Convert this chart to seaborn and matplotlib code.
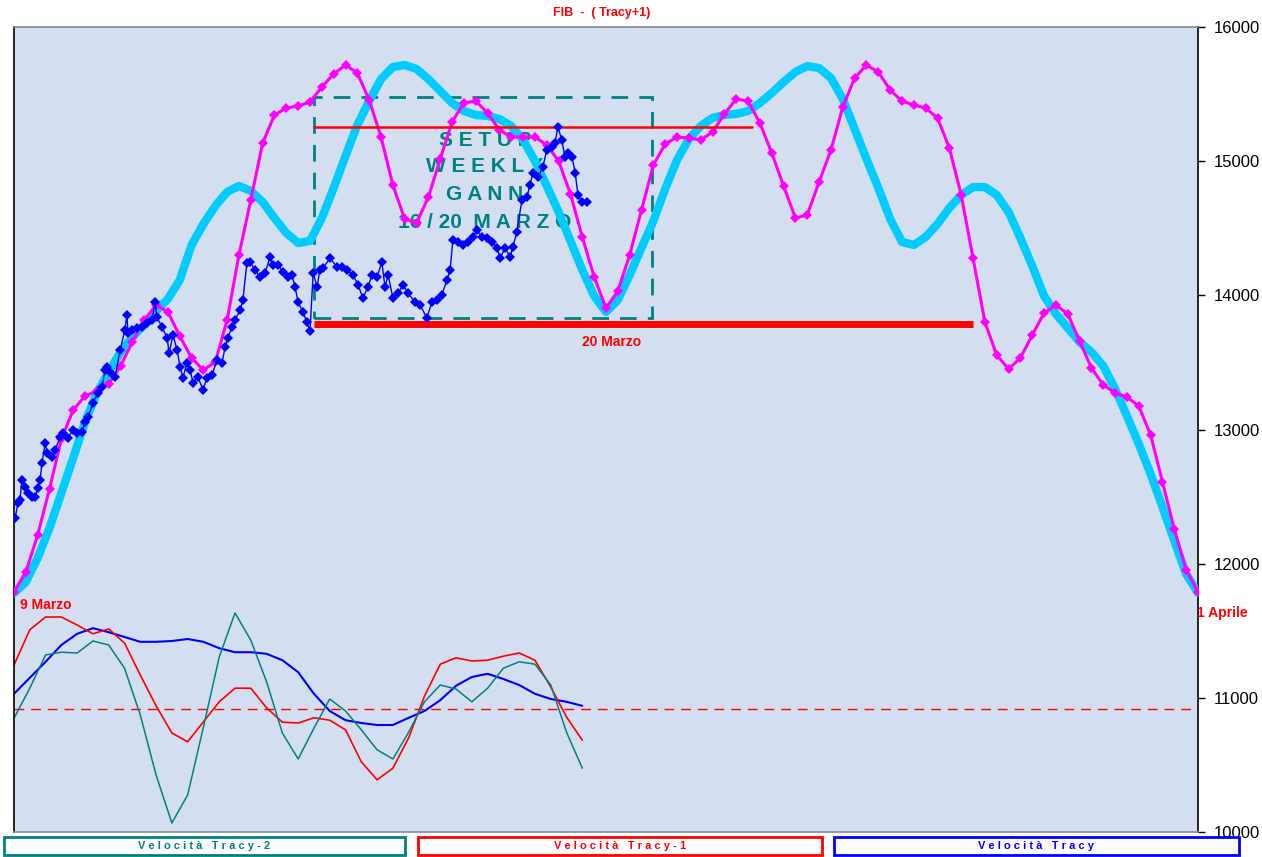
import numpy as np
import pandas as pd
import matplotlib
matplotlib.use("Agg")
import matplotlib.pyplot as plt
from matplotlib.patches import Rectangle
import seaborn as sns

# ---------------- data ----------------
# common time axis: 0..300 "bars"; model curves sampled every 3 bars
curve_x = list(range(0, 301, 3))

tracy = [11781, 11863, 12042, 12266, 12527, 12788, 13056, 13272, 13429, 13578,
         13689, 13779, 13883, 13973, 14114, 14375, 14532, 14666, 14770, 14815,
         14778, 14696, 14576, 14465, 14390, 14405, 14576, 14800, 15039, 15270,
         15448, 15612, 15702, 15717, 15687, 15612, 15523, 15434, 15374, 15344,
         15337, 15314, 15262, 15158, 15001, 14815, 14621, 14405, 14189, 13995,
         13876, 13965, 14152, 14353, 14554, 14793, 15009, 15165, 15262, 15322,
         15344, 15352, 15374, 15434, 15508, 15590, 15665, 15709, 15694, 15620,
         15463, 15240, 15016, 14800, 14569, 14398, 14375, 14435, 14532, 14651,
         14748, 14807, 14807, 14748, 14621, 14427, 14219, 13995, 13861, 13757,
         13652, 13578, 13473, 13302, 13101, 12892, 12668, 12422, 12169, 11923,
         11781]

tracy_plus1 = [11789, 11938, 12214, 12557, 12929, 13145, 13250, 13287, 13339, 13473,
               13652, 13816, 13928, 13876, 13697, 13533, 13443, 13503, 13816, 14301,
               14711, 15135, 15344, 15396, 15411, 15441, 15553, 15650, 15717, 15657,
               15456, 15180, 14822, 14569, 14539, 14733, 15016, 15292, 15434, 15448,
               15359, 15232, 15180, 15180, 15180, 15120, 15001, 14755, 14435, 14137,
               13906, 14032, 14301, 14636, 14971, 15128, 15180, 15173, 15158, 15217,
               15352, 15463, 15448, 15284, 15061, 14815, 14576, 14599, 14845, 15083,
               15404, 15620, 15717, 15665, 15530, 15448, 15419, 15396, 15322, 15098,
               14748, 14278, 13801, 13555, 13451, 13533, 13704, 13868, 13928, 13861,
               13660, 13458, 13332, 13272, 13242, 13175, 12959, 12609, 12258, 11953,
               11789]

fib_x = [0.3, 1.0, 1.5, 2.0, 2.8, 3.5, 4.6, 5.3, 6.1, 6.6, 7.1, 7.9, 8.4, 9.6, 10.4,
         11.7, 12.4, 13.7, 14.9, 16.0, 17.2, 18.0, 18.8, 20.0, 21.3, 22.3, 23.1, 23.6,
         24.3, 25.6, 26.9, 28.1, 28.6, 28.9, 29.9, 31.2, 32.4, 33.7, 35.0, 35.7, 36.2,
         37.5, 38.8, 39.3, 40.3, 41.3, 42.1, 42.8, 43.8, 44.6, 45.4, 46.6, 47.9, 48.9,
         50.2, 51.4, 52.7, 53.5, 54.2, 55.2, 56.0, 57.3, 58.0, 59.0, 59.8, 61.1, 62.3,
         63.6, 64.9, 65.6, 66.9, 68.2, 69.4, 70.4, 71.2, 72.0, 73.2, 74.2, 75.0, 75.8,
         76.8, 77.5, 78.3, 80.1, 81.8, 83.1, 84.4, 85.9, 87.2, 88.4, 89.7, 90.7, 92.0,
         93.2, 94.0, 94.8, 96.0, 97.3, 98.6, 99.8, 101.6, 102.9, 104.6, 105.9, 107.2,
         108.4, 109.7, 110.5, 111.2, 112.5, 113.8, 115.0, 116.3, 117.3, 118.6, 119.9,
         121.1, 122.4, 123.2, 124.4, 125.7, 126.4, 127.4, 128.7, 130.0, 130.7, 131.5,
         132.8, 134.0, 135.0, 136.3, 137.1, 137.8, 138.8, 139.6, 140.4, 141.4, 142.2,
         142.9, 143.9, 145.2]

fib = [12340, 12452, 12474, 12624, 12571, 12527, 12497, 12497, 12564, 12624, 12750,
       12900, 12825, 12795, 12847, 12944, 12974, 12937, 12996, 12974, 12981, 13056,
       13093, 13198, 13272, 13317, 13443, 13466, 13429, 13391, 13593, 13742, 13853,
       13719, 13742, 13757, 13764, 13794, 13816, 13950, 13838, 13764, 13682, 13570,
       13704, 13593, 13466, 13384, 13496, 13443, 13347, 13391, 13295, 13384, 13406,
       13518, 13496, 13615, 13682, 13764, 13816, 13891, 13965, 14241, 14248, 14189,
       14137, 14166, 14286, 14226, 14226, 14174, 14137, 14152, 14062, 13950, 13876,
       13801, 13734, 14166, 14062, 14189, 14204, 14278, 14211, 14211, 14189, 14152,
       14077, 13980, 14062, 14152, 14137, 14248, 14062, 14152, 13980, 14017, 14077,
       14017, 13950, 13928, 13831, 13950, 13965, 14003, 14114, 14189, 14412, 14397,
       14375, 14397, 14435, 14487, 14435, 14427, 14397, 14353, 14278, 14353, 14286,
       14360, 14472, 14711, 14733, 14822, 14912, 14882, 14957, 15083, 15106, 15136,
       15255, 15158, 15031, 15061, 15031, 14912, 14748, 14696, 14696]

# velocity oscillators (own scale, zero = dashed line), sampled every 4 bars
vel_x = list(range(0, 145, 4))
vel_tracy_m2 = [-0.23, 0.52, 1.35, 1.42, 1.40, 1.70, 1.60, 1.02, -0.15, -1.65,
                -2.85, -2.15, -0.45, 1.30, 2.40, 1.72, 0.68, -0.60, -1.25, -0.48,
                0.25, -0.05, -0.52, -1.02, -1.25, -0.58, 0.18, 0.60, 0.50, 0.18,
                0.52, 1.02, 1.18, 1.12, 0.60, -0.58, -1.48]
vel_tracy_m1 = [1.10, 1.98, 2.30, 2.30, 2.10, 1.88, 2.00, 1.65, 0.85, 0.08,
                -0.60, -0.82, -0.32, 0.18, 0.52, 0.52, 0.03, -0.33, -0.35, -0.22,
                -0.28, -0.52, -1.32, -1.77, -1.48, -0.72, 0.32, 1.12, 1.28, 1.20,
                1.22, 1.32, 1.40, 1.22, 0.55, -0.20, -0.78]
vel_tracy = [0.38, 0.78, 1.18, 1.60, 1.88, 2.02, 1.92, 1.80, 1.68, 1.68,
             1.70, 1.75, 1.68, 1.52, 1.42, 1.42, 1.38, 1.22, 0.92, 0.38,
             -0.05, -0.28, -0.35, -0.40, -0.40, -0.22, -0.05, 0.22, 0.58, 0.80,
             0.88, 0.75, 0.60, 0.38, 0.25, 0.18, 0.08]

# levels / setup box
upper_level = 15255
upper_span = [76, 187]
lower_level = 13790
lower_span = [76, 243]
box_x = [76, 161.7]
box_y = [13831, 15478]

y_ticks = [10000, 11000, 12000, 13000, 14000, 15000, 16000]
legend_labels = ["V e l o c i t à   T r a c y - 2",
                 "V e l o c i t à   T r a c y - 1",
                 "V e l o c i t à   T r a c y"]

# ---------------- style ----------------
sns.set_style("white")
plt.rcParams['font.family'] = ['Liberation Sans', 'DejaVu Sans']

MAG = "#FF00FF"
CYAN = "#00CCFF"
BLUE = "#0000FF"
TEAL = "#008080"
RED = "#FF0000"

W, H = 1262, 857
fig = plt.figure(figsize=(W / 100, H / 100), dpi=100)
fig.patch.set_facecolor("white")
L, R, T, B = 14, 1198, 27, 832
rect = [L / W, 1 - B / H, (R - L) / W, (B - T) / H]

# oscillator axes underneath (own hidden scale)
axo = fig.add_axes(rect)
axo.set_facecolor("#d3dff0")
axo.set_ylim(-3.075, 17.05)
axo.set_xlim(0, 300)
axo.axhline(0, color=RED, lw=1, ls=(0, (7, 5)), zorder=1)
sns.lineplot(x=vel_x, y=vel_tracy, ax=axo, color=BLUE, lw=1.5, sort=False,
             estimator=None)
sns.lineplot(x=vel_x, y=vel_tracy_m1, ax=axo, color=RED, lw=1.2, sort=False,
             estimator=None)
sns.lineplot(x=vel_x, y=vel_tracy_m2, ax=axo, color=TEAL, lw=1.1, sort=False,
             estimator=None)
axo.set_xticks([])
axo.set_yticks([])
axo.set_ylabel("")
for s in axo.spines.values():
    s.set_visible(False)

# main price axes on top, transparent
ax = fig.add_axes(rect)
ax.patch.set_alpha(0)

sns.lineplot(x=curve_x, y=tracy, ax=ax, color=CYAN, lw=6, sort=False,
             estimator=None, zorder=3, solid_capstyle="round")
sns.lineplot(x=curve_x, y=tracy_plus1, ax=ax, color=MAG, lw=2.2, sort=False,
             estimator=None, marker="D", markersize=5, markeredgewidth=0,
             zorder=4)
sns.lineplot(x=fib_x, y=fib, ax=ax, color=BLUE, lw=1, sort=False,
             estimator=None, marker="D", markersize=5.5, markeredgewidth=0,
             zorder=5)

ax.plot(upper_span, [upper_level] * 2, color=RED, lw=1.8, zorder=4.5)
ax.plot(lower_span, [lower_level] * 2, color=RED, lw=5, zorder=4.5,
        solid_capstyle="butt")
ax.add_patch(Rectangle((box_x[0], box_y[0]), box_x[1] - box_x[0],
                       box_y[1] - box_y[0], fill=False, ec=TEAL, lw=2,
                       ls=(0, (6, 4)), zorder=2.5))

ax.set_xlim(0, 300)
ax.set_ylim(10000, 16000)
ax.set_xticks([])
ax.set_ylabel("")
ax.yaxis.tick_right()
ax.set_yticks(y_ticks)
ax.set_yticklabels([str(v) for v in y_ticks])
ax.tick_params(axis="y", left=False, right=True, labelleft=False,
               labelright=True, direction="out", length=5, width=1,
               labelsize=12, pad=6, colors="black")
for s in ["left", "right"]:
    ax.spines[s].set_color("black")
    ax.spines[s].set_linewidth(1.2)
for s in ["top", "bottom"]:
    ax.spines[s].set_color("#8a8a8a")
    ax.spines[s].set_linewidth(1.2)

# annotations
def fx(px):
    return (px - L) / (R - L)

def fy(py):
    return (B - py) / (B - T)

for txt, py in [("S E T U P", 140), ("W E E K L Y", 167), ("G A N N", 195),
                ("16 / 20  M A R Z O", 223)]:
    ax.text(fx(485), fy(py), txt, transform=ax.transAxes, ha="center",
            va="center", color=TEAL, fontsize=15, fontweight="bold", zorder=2)

ax.text(fx(612), fy(342), "20 Marzo", transform=ax.transAxes, ha="center",
        va="center", color=RED, fontsize=10, fontweight="bold", zorder=6)
ax.text(fx(20), fy(605), "9 Marzo", transform=ax.transAxes, ha="left",
        va="center", color=RED, fontsize=10, fontweight="bold", zorder=6)
ax.text(fx(1197), fy(613), "1 Aprile", transform=ax.transAxes, ha="left",
        va="center", color=RED, fontsize=10, fontweight="bold", zorder=6,
        clip_on=False)

fig.text(602 / W, 1 - 13 / H, "FIB  -  ( Tracy+1)", ha="center", va="center",
         color=RED, fontsize=9, fontweight="bold")

# legend boxes
for (x0, x1), col, lab in zip([(4, 405), (418, 822), (834, 1239)],
                              [TEAL, RED, BLUE], legend_labels):
    fig.patches.append(Rectangle((x0 / W, 1 - 855 / H), (x1 - x0) / W, 18 / H,
                                 transform=fig.transFigure, fc="white",
                                 ec=col, lw=2))
    fig.text((x0 + x1) / 2 / W, 1 - 846 / H, lab, ha="center", va="center",
             color=col, fontsize=8, fontweight="bold")

fig.savefig("out.png", dpi=100)
